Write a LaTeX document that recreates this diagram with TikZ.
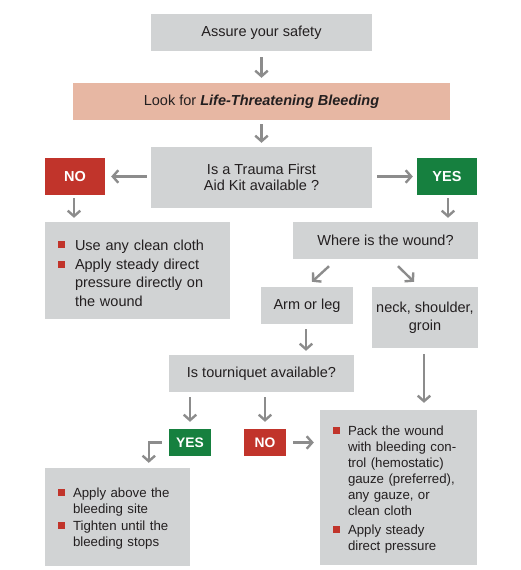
\documentclass[tikz,border=0pt]{standalone}
\usepackage{fontspec}
\setmainfont{Liberation Sans}
\usetikzlibrary{arrows.meta,calc}
\definecolor{boxgray}{HTML}{D1D3D4}
\definecolor{salmon}{HTML}{E7B7A3}
\definecolor{bred}{HTML}{C1342B}
\definecolor{bgreen}{HTML}{16803F}
\definecolor{agray}{HTML}{8C8C8C}
\definecolor{txt}{HTML}{231F20}
\newcommand{\bsq}[1]{\makebox[#1][l]{\textcolor{bred}{\raisebox{1.7pt}{\rule{7pt}{7pt}}}}}
\newcommand{\bitem}[3]{\par\noindent\bsq{#1}\parbox[t]{#2}{\raggedright #3}\par}
\begin{document}
\begin{tikzpicture}[x=1pt,y=-1pt,
  box/.style={fill=boxgray, inner sep=0pt, align=center, text=txt, font=\fontsize{14.5}{16.5}\selectfont},
  lbox/.style={fill=boxgray, inner ysep=0pt, align=left, text=txt},
  lab/.style={inner sep=0pt, text=white, font=\bfseries\fontsize{14.5}{16}\selectfont},
  slab/.style={inner sep=0pt, text=white, font=\bfseries\fontsize{13.8}{16}\selectfont},
  arr/.style={draw=agray, line width=2.4pt, -{Straight Barb[length=5.5pt,width=12.5pt]}}
]
\path[fill=white] (0,0) rectangle (521,570);
\useasboundingbox (0,0) rectangle (521,570);

\node[box, minimum width=221pt, minimum height=37pt] (assure) at (261.5,32.5) {Assure your safety};
\node[box, fill=salmon, minimum width=377pt, minimum height=37pt] (look) at (261.5,101.5) {Look for \textbf{\textit{Life-Threatening Bleeding}}};
\node[box, minimum width=221pt, minimum height=61pt] (kit) at (261.5,177.5) {Is a Trauma First\\Aid Kit available ?};
\node[lab, fill=bred, minimum width=60pt, minimum height=37pt] (no1) at (75,176.5) {NO};
\node[lab, fill=bgreen, minimum width=60pt, minimum height=37pt] (yes1) at (447,176.5) {YES};

\node[lbox, inner xsep=12.5pt, text width=160pt, minimum height=97pt,
      font=\fontsize{14.5}{18.3}\selectfont] (nobox) at (137.5,270.5)
  {\vspace{-3pt}\bitem{17.5pt}{142pt}{Use any clean cloth}\vspace{1pt}\bitem{17.5pt}{142pt}{Apply steady direct\\pressure directly on\\the wound}};

\node[box, minimum width=185pt, minimum height=37pt] (where) at (385.5,240.5) {Where is the wound?};
\node[box, minimum width=92pt, minimum height=37pt] (arm) at (307,305.5) {Arm or leg};
\node[box, minimum width=106pt, minimum height=61pt, font=\fontsize{14.5}{18}\selectfont] (neck) at (425,317.5) {neck, shoulder,\\groin};
\node[box, minimum width=185pt, minimum height=37pt] (tourn) at (261.5,373.5) {Is tourniquet available?};

\node[slab, fill=bgreen, minimum width=42pt, minimum height=27pt] (yes2) at (190,442.5) {YES};
\node[slab, fill=bred, minimum width=42pt, minimum height=27pt] (no2) at (265,442.5) {NO};

\node[lbox, inner xsep=13pt, text width=119pt, minimum height=98pt,
      font=\fontsize{13.25}{15.7}\selectfont] (yesbox) at (117.5,517)
  {\vspace{-3pt}\bitem{15pt}{104pt}{Apply above the\\bleeding site}\vspace{4pt}\bitem{15pt}{104pt}{Tighten until the\\bleeding stops}};

\node[lbox, inner xsep=13pt, text width=131pt, minimum height=155pt,
      font=\fontsize{13.25}{16}\selectfont] (pack) at (398.5,487.5)
  {\vspace{-2pt}\bitem{15pt}{116pt}{Pack the wound\\with bleeding con-\\trol (hemostatic)\\gauze (preferred),\\any gauze, or\\clean cloth}\vspace{8pt}\bitem{15pt}{116pt}{Apply steady\\direct pressure}};

% connectors
\draw[arr, shorten <=6pt, shorten >=5pt] (assure) -- (look);
\draw[arr, shorten <=4pt, shorten >=4pt] (look) -- (kit);
\draw[arr, shorten <=4pt, shorten >=6pt] (kit.west |- no1.east) -- (no1.east);
\draw[arr, shorten <=5pt, shorten >=4pt] (kit.east |- yes1.west) -- (yes1.west);
\draw[arr, shorten <=3pt, shorten >=4pt] ([xshift=-1pt]no1.south) -- ([xshift=-1pt]no1.south |- nobox.north);
\draw[arr, shorten <=3pt, shorten >=4pt] ([xshift=1pt]yes1.south) -- ([xshift=1pt]yes1.south |- where.north);
\draw[arr] ([xshift=-56.5pt,yshift=-7pt]where.south) -- ([xshift=5pt,yshift=5pt]arm.north);
\draw[arr] ([xshift=12.5pt,yshift=-7pt]where.south) -- ([xshift=-11pt,yshift=5pt]neck.north);
\draw[arr, shorten <=5pt, shorten >=4pt] ([xshift=-1pt]arm.south) -- ([xshift=-1pt]arm.south |- tourn.north);
\draw[arr, shorten <=6pt, shorten >=7pt] ([xshift=-1pt]neck.south) -- ([xshift=-1pt]neck.south |- pack.north);
\draw[arr, shorten <=5pt, shorten >=7pt] (tourn.south -| yes2.north) -- (yes2.north);
\draw[arr, shorten <=5pt, shorten >=7pt] (tourn.south -| no2.north) -- (no2.north);
\draw[arr, shorten <=7pt, shorten >=6pt] (no2.east) -- (no2.east -| pack.west);
\coordinate (elb) at ([xshift=-20pt]yes2.west);
\draw[arr, shorten <=7pt, shorten >=5pt] (yes2.west) -- (elb) -- (elb |- yesbox.north);
\end{tikzpicture}
\end{document}
